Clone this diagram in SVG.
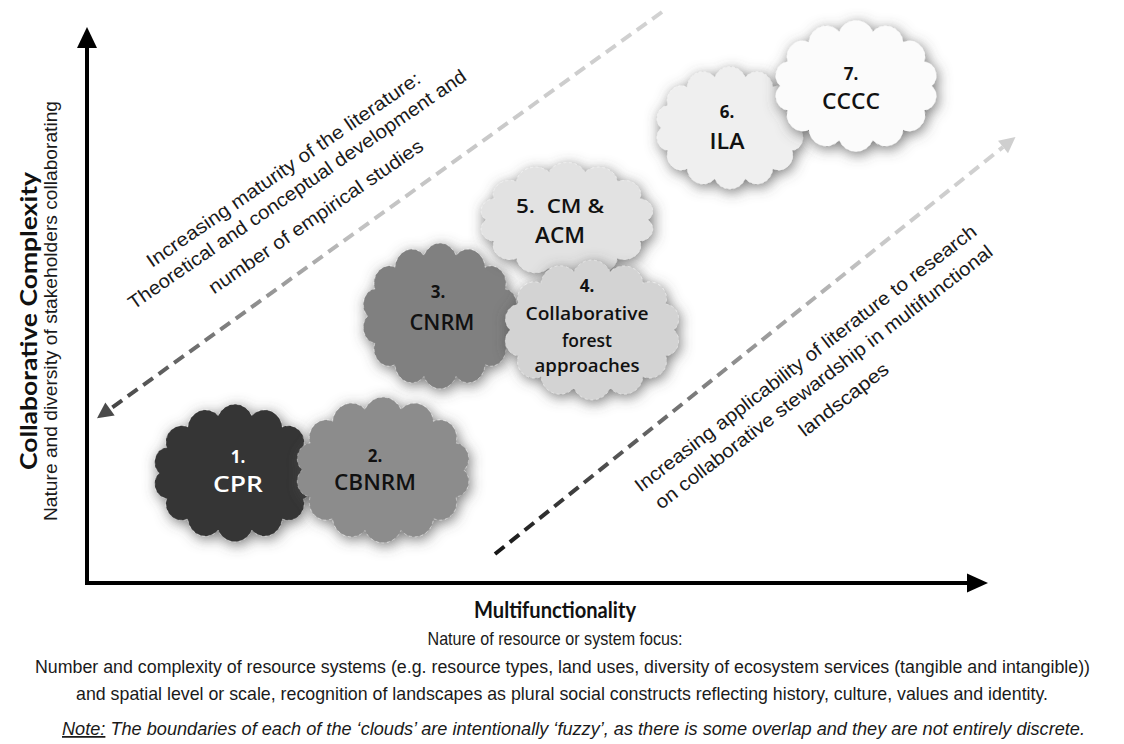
<svg xmlns="http://www.w3.org/2000/svg" xmlns:xlink="http://www.w3.org/1999/xlink" width="1124" height="744" viewBox="0 0 1124 744">
<style>
.lbl{font-family:"Open Sans",Lato,"Liberation Sans",sans-serif;font-weight:600;fill:#111;text-anchor:middle;}
.num{font-family:"Open Sans",Lato,"Liberation Sans",sans-serif;font-weight:700;fill:#111;text-anchor:middle;font-size:17px;}
.wht{fill:#ffffff;}
.ar{font-family:"Liberation Sans",Arial,sans-serif;fill:#1a1a1a;font-size:19px;}
.sm{font-size:17.5px;}
.mid{text-anchor:middle;}
.ttl{font-family:Lato,"Open Sans","Liberation Sans",sans-serif;font-weight:700;fill:#111;text-anchor:middle;font-size:23px;}
.cl{stroke:#ffffff;stroke-opacity:0.35;stroke-width:1;stroke-dasharray:3 3;}
</style>
<defs>
<filter id="shadow" x="-25%" y="-25%" width="150%" height="150%">
<feGaussianBlur in="SourceAlpha" stdDeviation="7"/>
<feOffset dx="2" dy="3" result="b"/>
<feFlood flood-color="#4a4a4a" flood-opacity="0.75"/>
<feComposite in2="b" operator="in"/>
<feMerge><feMergeNode/><feMergeNode in="SourceGraphic"/></feMerge>
</filter>
<path id="cloudShape" d="M86,0 A15.5,15.5 0 0 1 77.5,26.9 A17.7,17.7 0 0 1 53.6,48.5 A20,20 0 0 1 19.1,60.4 A21,21 0 0 1 -19.1,60.4 A20,20 0 0 1 -53.6,48.5 A17.7,17.7 0 0 1 -77.5,26.9 A15.5,15.5 0 0 1 -86,0 A15.5,15.5 0 0 1 -77.5,-26.9 A17.7,17.7 0 0 1 -53.6,-48.5 A20,20 0 0 1 -19.1,-60.4 A21,21 0 0 1 19.1,-60.4 A20,20 0 0 1 53.6,-48.5 A17.7,17.7 0 0 1 77.5,-26.9 A15.5,15.5 0 0 1 86,0 Z"/>
<linearGradient id="g1" gradientUnits="userSpaceOnUse" x1="662" y1="12" x2="110" y2="409">
<stop offset="0" stop-color="#d2d2d2"/>
<stop offset="0.55" stop-color="#c2c2c2"/>
<stop offset="1" stop-color="#444444"/>
</linearGradient>
<linearGradient id="g2" gradientUnits="userSpaceOnUse" x1="495" y1="554" x2="1003" y2="147">
<stop offset="0" stop-color="#161616"/>
<stop offset="0.45" stop-color="#8a8a8a"/>
<stop offset="0.75" stop-color="#c8c8c8"/>
<stop offset="1" stop-color="#d2d2d2"/>
</linearGradient>
<marker id="m1" viewBox="0 0 10 10" refX="0" refY="5" markerUnits="userSpaceOnUse" markerWidth="18" markerHeight="16" orient="auto">
<path d="M0,0 L10,5 L0,10 Z" fill="#4a4a4a"/>
</marker>
<marker id="m2" viewBox="0 0 10 10" refX="0" refY="5" markerUnits="userSpaceOnUse" markerWidth="18" markerHeight="16" orient="auto">
<path d="M0,0 L10,5 L0,10 Z" fill="#cfcfcf"/>
</marker>
</defs>
<rect width="1124" height="744" fill="#ffffff"/>

<g id="axes">
<line x1="87" y1="585" x2="87" y2="46" stroke="#000" stroke-width="4"/>
<polygon points="87,27 77,48 97,48" fill="#000"/>
<line x1="85" y1="583" x2="968" y2="583" stroke="#000" stroke-width="4"/>
<polygon points="988,583 967,573.5 967,592.5" fill="#000"/>
</g>

<g id="connectors">
<line x1="662" y1="12" x2="110" y2="409" stroke="url(#g1)" stroke-width="4" stroke-dasharray="12 7" marker-end="url(#m1)"/>
<line x1="495" y1="554" x2="1003" y2="147" stroke="url(#g2)" stroke-width="4" stroke-dasharray="12 7" marker-end="url(#m2)"/>
</g>

<g id="node1" filter="url(#shadow)">
<use xlink:href="#cloudShape" class="cl" transform="translate(235,473) scale(0.88,0.945)" fill="#363636"/>
</g>
<g id="node2" filter="url(#shadow)">
<use xlink:href="#cloudShape" class="cl" transform="translate(383,470) scale(0.94,1.0)" fill="#8c8c8c"/>
</g>
<g id="node3" filter="url(#shadow)">
<use xlink:href="#cloudShape" class="cl" transform="translate(440,316) scale(0.84,1.0)" fill="#808080"/>
</g>
<g id="node5" filter="url(#shadow)">
<use xlink:href="#cloudShape" class="cl" transform="translate(567,220) scale(0.94,0.79)" fill="#e2e2e2"/>
</g>
<g id="node4" filter="url(#shadow)">
<use xlink:href="#cloudShape" class="cl" transform="translate(592,330) scale(0.95,0.96)" fill="#d3d3d3"/>
</g>
<g id="node6" filter="url(#shadow)">
<use xlink:href="#cloudShape" class="cl" transform="translate(730,128) scale(0.8,0.84)" fill="#efefef"/>
</g>
<g id="node7" filter="url(#shadow)">
<use xlink:href="#cloudShape" class="cl" transform="translate(856,86) scale(0.88,0.9)" fill="#fbfbfb"/>
</g>

<g id="labels">
<text class="num wht" x="238" y="463">1.</text>
<text class="lbl wht" x="238" y="492" font-size="21" textLength="50" lengthAdjust="spacingAndGlyphs">CPR</text>
<text class="num" x="375" y="462">2.</text>
<text class="lbl" x="375" y="490" font-size="21" textLength="82" lengthAdjust="spacingAndGlyphs">CBNRM</text>
<text class="num" x="438" y="298">3.</text>
<text class="lbl" x="442" y="330" font-size="21" textLength="65" lengthAdjust="spacingAndGlyphs">CNRM</text>
<text class="num" x="587" y="292">4.</text>
<text class="lbl" x="587" y="320" font-size="18.5" textLength="123" lengthAdjust="spacingAndGlyphs">Collaborative</text>
<text class="lbl" x="587" y="347" font-size="18.5" textLength="50" lengthAdjust="spacingAndGlyphs">forest</text>
<text class="lbl" x="587" y="372" font-size="18.5" textLength="105" lengthAdjust="spacingAndGlyphs">approaches</text>
<text class="lbl" x="560" y="213" font-size="19" textLength="88" lengthAdjust="spacingAndGlyphs" style="white-space:pre">5.  CM &amp;</text>
<text class="lbl" x="560" y="243" font-size="21" textLength="50" lengthAdjust="spacingAndGlyphs">ACM</text>
<text class="num" x="727" y="118">6.</text>
<text class="lbl" x="727" y="149" font-size="21" textLength="35" lengthAdjust="spacingAndGlyphs">ILA</text>
<text class="num" x="851" y="80">7.</text>
<text class="lbl" x="851" y="109" font-size="21" textLength="58" lengthAdjust="spacingAndGlyphs">CCCC</text>
</g>

<g id="diag1" transform="rotate(-34.6)">
<text class="ar mid" x="137" y="307" textLength="328" lengthAdjust="spacingAndGlyphs">Increasing maturity of the literature:</text>
<text class="ar mid" x="137" y="331" textLength="406" lengthAdjust="spacingAndGlyphs">Theoretical and conceptual development and</text>
<text class="ar mid" x="137" y="364" textLength="256" lengthAdjust="spacingAndGlyphs">number of empirical studies</text>
</g>
<g id="diag2" transform="rotate(-37.5)">
<text class="ar mid" x="421" y="781" textLength="425" lengthAdjust="spacingAndGlyphs">Increasing applicability of literature to research</text>
<text class="ar mid" x="424" y="807" textLength="420" lengthAdjust="spacingAndGlyphs">on collaborative stewardship in multifunctional</text>
<text class="ar mid" x="426" y="837" textLength="108" lengthAdjust="spacingAndGlyphs">landscapes</text>
</g>

<g id="yaxis-title">
<text class="ttl" transform="translate(37,321) rotate(-90)" textLength="298" lengthAdjust="spacingAndGlyphs">Collaborative Complexity</text>
<text class="ar mid" transform="translate(57,311) rotate(-90)" textLength="420" lengthAdjust="spacingAndGlyphs">Nature and diversity of stakeholders collaborating</text>
</g>

<g id="xaxis-title">
<text class="ttl" x="555" y="618" textLength="162" lengthAdjust="spacingAndGlyphs">Multifunctionality</text>
<text class="ar mid" x="555" y="645" textLength="255" lengthAdjust="spacingAndGlyphs">Nature of resource or system focus:</text>
<text class="ar sm mid" x="562.5" y="673" textLength="1055" lengthAdjust="spacingAndGlyphs">Number and complexity of resource systems (e.g. resource types, land uses, diversity of ecosystem services (tangible and intangible))</text>
<text class="ar mid" x="562" y="700" textLength="972" lengthAdjust="spacingAndGlyphs">and spatial level or scale, recognition of landscapes as plural social constructs reflecting history, culture, values and identity.</text>
<text class="ar sm mid" x="573.5" y="735" font-style="italic" textLength="1023" lengthAdjust="spacingAndGlyphs"><tspan text-decoration="underline">Note:</tspan> The boundaries of each of the ‘clouds’ are intentionally ‘fuzzy’, as there is some overlap and they are not entirely discrete.</text>
</g>
</svg>
